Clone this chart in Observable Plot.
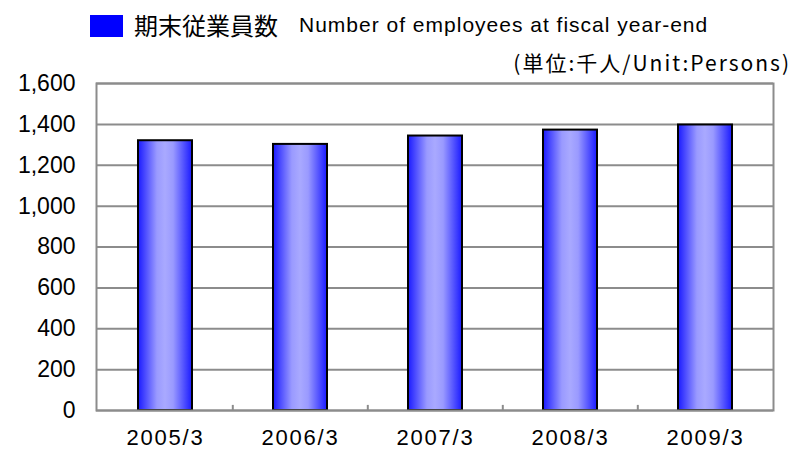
<!DOCTYPE html>
<html>
<head>
<meta charset="utf-8">
<script src="https://cdn.jsdelivr.net/npm/d3@7"></script>
<script src="https://cdn.jsdelivr.net/npm/@observablehq/plot@0.6"></script>
<style>
  html, body { margin: 0; padding: 0; background: #fff; }
  #wrap { position: relative; width: 796px; height: 455px; overflow: hidden; }
  #swatch { position: absolute; left: 90px; top: 15px; width: 33px; height: 22px; background: #0000ff; }
  #legendCjk { position: absolute; left: 134px; top: 9px; font-family: "Noto Sans CJK JP", sans-serif;
               font-size: 24px; line-height: 32px; color: #000; white-space: nowrap; }
  #legendEn { position: absolute; left: 299px; top: 9px; font-family: "Liberation Sans", Arial, sans-serif;
              font-size: 21px; line-height: 32px; letter-spacing: 1px; color: #000; white-space: nowrap; }
  #unit { position: absolute; right: 5px; top: 46px; font-family: "Noto Sans CJK JP", sans-serif;
          font-size: 21px; line-height: 32px; letter-spacing: 2px; color: #000; white-space: nowrap; }
  #chart { position: absolute; left: 0; top: 0; }
  #chart g[aria-label="x-axis tick label"] text { letter-spacing: 1.8px; }
</style>
</head>
<body>
<div id="wrap">
  <div id="chart"></div>
  <div id="swatch"></div>
  <div id="legendCjk"></div>
  <div id="legendEn"></div>
  <div id="unit"></div>
</div>
<script>
const categories = ["2005/3", "2006/3", "2007/3", "2008/3", "2009/3"];
const employees = [1320, 1302, 1343, 1372, 1397];
const yTicks = [0, 200, 400, 600, 800, 1000, 1200, 1400, 1600];
const legendLabelJa = "期末従業員数";
const legendLabelEn = "Number of employees at fiscal year-end";
const unitLabel = "(単位:千人/Unit:Persons)";

document.getElementById("legendCjk").textContent = legendLabelJa;
document.getElementById("legendEn").textContent = legendLabelEn;
document.getElementById("unit").textContent = unitLabel;

const data = categories.map((c, i) => ({category: c, value: employees[i]}));

const W = 796, H = 455, ML = 96, MR = 23, MT = 83, MB = 45;
const step = (W - ML - MR) / categories.length;
const gray = "#8c8c8c";

const chart = Plot.plot({
  width: W,
  height: H,
  marginLeft: ML,
  marginRight: MR,
  marginTop: MT,
  marginBottom: MB,
  style: {fontFamily: "'Liberation Sans', Arial, sans-serif", fontSize: "23px", color: "#000", background: "#fff"},
  x: {domain: categories, paddingInner: 0.6, paddingOuter: 0.3, label: null},
  y: {domain: [0, 1600], label: null},
  marks: [
    Plot.gridY(yTicks, {stroke: gray, strokeOpacity: 1, strokeWidth: 2}),
    Plot.barY(data, {x: "category", y: "value", fill: "url(#barGrad)", stroke: "#000", strokeWidth: 2}),
    Plot.ruleX(categories.slice(1), {y1: 0, y2: 25, stroke: gray, strokeWidth: 2, dx: -step / 2}),
    Plot.frame({stroke: gray, strokeWidth: 2}),
    Plot.axisY(yTicks, {tickSize: 0, tickPadding: 21, tickFormat: d3.format(","), fontSize: 23}),
    Plot.axisX({tickSize: 0, tickPadding: 19, fontSize: 22})
  ]
});

const ns = "http://www.w3.org/2000/svg";
const defs = document.createElementNS(ns, "defs");
const grad = document.createElementNS(ns, "linearGradient");
grad.setAttribute("id", "barGrad");
grad.setAttribute("x1", "0"); grad.setAttribute("x2", "1");
grad.setAttribute("y1", "0"); grad.setAttribute("y2", "0");
[[0, "#1a1aff"], [0.12, "#4646ff"], [0.35, "#9a9aff"], [0.5, "#a9a9ff"], [0.65, "#9a9aff"], [0.88, "#4646ff"], [1, "#1a1aff"]]
  .forEach(([o, c]) => {
    const s = document.createElementNS(ns, "stop");
    s.setAttribute("offset", o);
    s.setAttribute("stop-color", c);
    grad.appendChild(s);
  });
defs.appendChild(grad);
chart.insertBefore(defs, chart.firstChild);

document.getElementById("chart").appendChild(chart);
</script>
</body>
</html>
